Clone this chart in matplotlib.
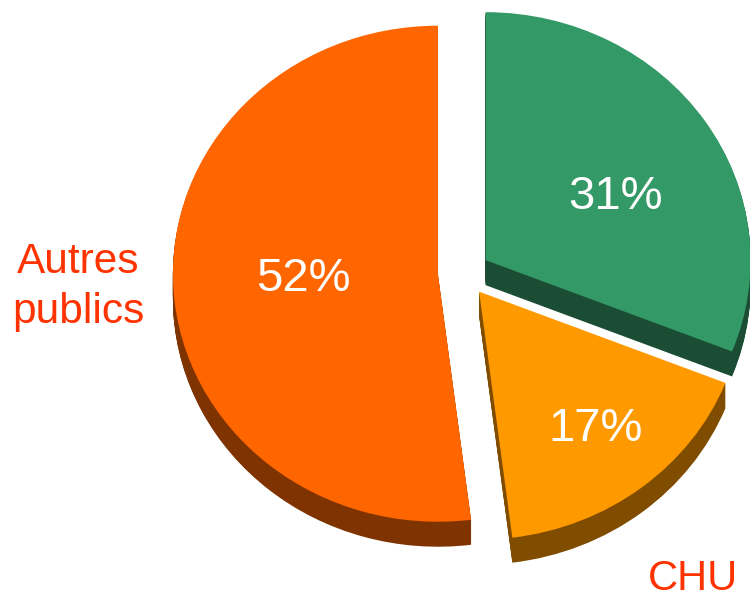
import matplotlib
matplotlib.use("Agg")
import matplotlib.pyplot as plt

# parts du pie, dans le sens horaire depuis le haut
parts = [31, 17, 52]
pct_labels = ["31%", "17%", "52%"]
outer_labels = ["CHU", "Autres\npublics"]
top_colors = ["#339966", "#FF9900", "#FF6600"]
side_colors = ["#1A4D33", "#804D00", "#7F3300"]
explode = [0.085, 0.09, 0.11]

W, H = 750, 593
CX, CY = 467, 272   # centre du pie en pixels
RX, RY = 265, 248   # rayons de l'ellipse
DEPTH = 25          # epaisseur en pixels
NUDGE = (-2.5 / RX, -2 / RY)  # le quartier jaune est un peu plus bas a gauche

plt.rcParams["font.family"] = ["Liberation Sans", "DejaVu Sans"]

fig = plt.figure(figsize=(W / 100, H / 100), dpi=100)
ax = fig.add_axes([0, 0, 1, 1])


def draw_pie(colors, shift):
    wedges, _ = ax.pie(parts, explode=explode, colors=colors, startangle=90,
                       counterclock=False, center=(0, -shift / RY),
                       wedgeprops={"linewidth": 0})
    x, y = wedges[1].center
    wedges[1].set_center((x + NUDGE[0], y + NUDGE[1]))


# epaisseur : on empile des pies sombres decales vers le bas
for d in range(DEPTH, 0, -1):
    draw_pie(side_colors, d)
draw_pie(top_colors, 0)

ax.set_aspect("auto")
ax.set_xlim(-CX / RX, (W - CX) / RX)
ax.set_ylim((CY - H) / RY, CY / RY)


def px(x, y):
    return x / W, 1 - y / H


for label, pos in zip(pct_labels, [(615, 197), (596, 429), (303, 279)]):
    ax.text(*px(*pos), label, transform=fig.transFigure, color="white",
            fontsize=34, ha="center", va="center")

ax.text(*px(693, 590), outer_labels[0], transform=fig.transFigure,
        color="#FF3300", fontsize=30, ha="center", va="baseline")
ax.text(*px(78, 287), outer_labels[1], transform=fig.transFigure,
        color="#FF3300", fontsize=30.5, ha="center", va="center", linespacing=1.35)

fig.savefig("out.png", dpi=100)
